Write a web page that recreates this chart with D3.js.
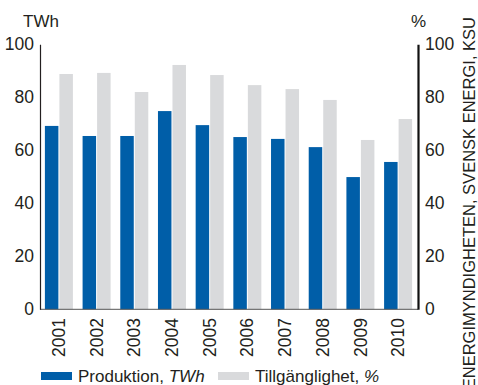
<!DOCTYPE html>
<html>
<head>
<meta charset="utf-8">
<title>Produktion och tillgänglighet</title>
<script src="https://d3js.org/d3.v7.min.js"></script>
<style>
  body { margin: 0; background: #fff; }
  svg text { font-family: "Liberation Sans", Arial, sans-serif; fill: #231f20; }
</style>
</head>
<body>
<div id="chart"></div>
<script>
// data
var years = ["2001", "2002", "2003", "2004", "2005", "2006", "2007", "2008", "2009", "2010"];
var produktion = [69.2, 65.4, 65.4, 74.8, 69.5, 65.0, 64.3, 61.2, 49.9, 55.6];     // TWh
var tillganglighet = [88.8, 89.2, 82.0, 92.2, 88.4, 84.6, 83.1, 79.0, 63.9, 71.8]; // %
var yTicks = [0, 20, 40, 60, 80, 100];
var seriesNames = ["prod", "till"];
var colors = { prod: "#005ea8", till: "#d9dadc" };

var W = 478, H = 385;
var plotLeft = 40, plotRight = 418, plotTop = 44.3, plotBottom = 309.3;

var svg = d3.select("#chart").append("svg")
    .attr("width", W)
    .attr("height", H);

var rows = years.map((y, i) => ({ year: y, prod: produktion[i], till: tillganglighet[i] }));

var x0 = d3.scaleBand()
    .domain(years)
    .range([plotLeft, plotRight - 1])
    .paddingInner(0.257)
    .paddingOuter(0.13);

var x1 = d3.scaleBand()
    .domain(seriesNames)
    .range([0, x0.bandwidth()])
    .paddingInner(0.07);

var yL = d3.scaleLinear().domain([0, 100]).range([plotBottom, plotTop]);
var yR = d3.scaleLinear().domain([0, 100]).range([plotBottom, plotTop]);

// bars
var groups = svg.append("g").selectAll("g")
    .data(rows)
    .enter()
    .append("g")
    .attr("transform", d => "translate(" + x0(d.year) + ",0)");

groups.selectAll("rect")
    .data(d => seriesNames.map(k => ({ key: k, value: d[k] })))
    .enter()
    .append("rect")
    .attr("x", d => x1(d.key))
    .attr("y", d => (d.key == "prod" ? yL : yR)(d.value))
    .attr("width", x1.bandwidth())
    .attr("height", d => plotBottom - (d.key == "prod" ? yL : yR)(d.value))
    .attr("fill", d => colors[d.key]);

// bottom line
svg.append("line")
    .attr("x1", plotLeft).attr("x2", plotRight)
    .attr("y1", plotBottom).attr("y2", plotBottom)
    .attr("stroke", "#555").attr("stroke-width", 1);

// left axis
var axL = svg.append("g")
    .attr("transform", "translate(" + plotLeft + ",0)")
    .call(d3.axisLeft(yL).tickValues(yTicks).tickSize(0).tickPadding(6));
axL.select(".domain").attr("stroke", "#231f20").attr("stroke-width", 1.2);
axL.selectAll("text").style("font-size", "17.5px").attr("fill", "#231f20");

// right axis
var axR = svg.append("g")
    .attr("transform", "translate(" + plotRight + ",0)")
    .call(d3.axisRight(yR).tickValues(yTicks).tickSize(0).tickPadding(7));
axR.select(".domain").attr("stroke", "#111").attr("stroke-width", 2.2);
axR.selectAll("text").style("font-size", "17.5px").attr("fill", "#231f20");

// unit labels
svg.append("text").attr("x", 23).attr("y", 27).style("font-size", "17px").text("TWh");
svg.append("text").attr("x", 411).attr("y", 27).style("font-size", "17px").text("%");

// year labels
svg.append("g").selectAll("text")
    .data(years)
    .enter()
    .append("text")
    .attr("transform", d => "translate(" + (x0(d) + x0.bandwidth() / 2) + ",318) rotate(-90)")
    .attr("text-anchor", "end")
    .attr("dy", "0.35em")
    .style("font-size", "17.5px")
    .text(d => d);

// legend
var legend = svg.append("g");
legend.append("rect").attr("x", 41).attr("y", 372).attr("width", 31).attr("height", 8).attr("fill", colors.prod);
var t1 = legend.append("text").attr("x", 78).attr("y", 382).style("font-size", "17px");
t1.append("tspan").text("Produktion, ");
t1.append("tspan").style("font-style", "italic").text("TWh");
legend.append("rect").attr("x", 218).attr("y", 372).attr("width", 31).attr("height", 8).attr("fill", colors.till);
var t2 = legend.append("text").attr("x", 255).attr("y", 382).style("font-size", "17px");
t2.append("tspan").text("Tillgänglighet, ");
t2.append("tspan").style("font-style", "italic").text("%");

// source (runs off the bottom edge, as in the original)
svg.append("text")
    .attr("transform", "translate(474.5,17) rotate(-90)")
    .attr("text-anchor", "end")
    .style("font-size", "16.5px")
    .attr("fill", "#333")
    .text("ENERGIMYNDIGHETEN, SVENSK ENERGI, KSU");
</script>
</body>
</html>
